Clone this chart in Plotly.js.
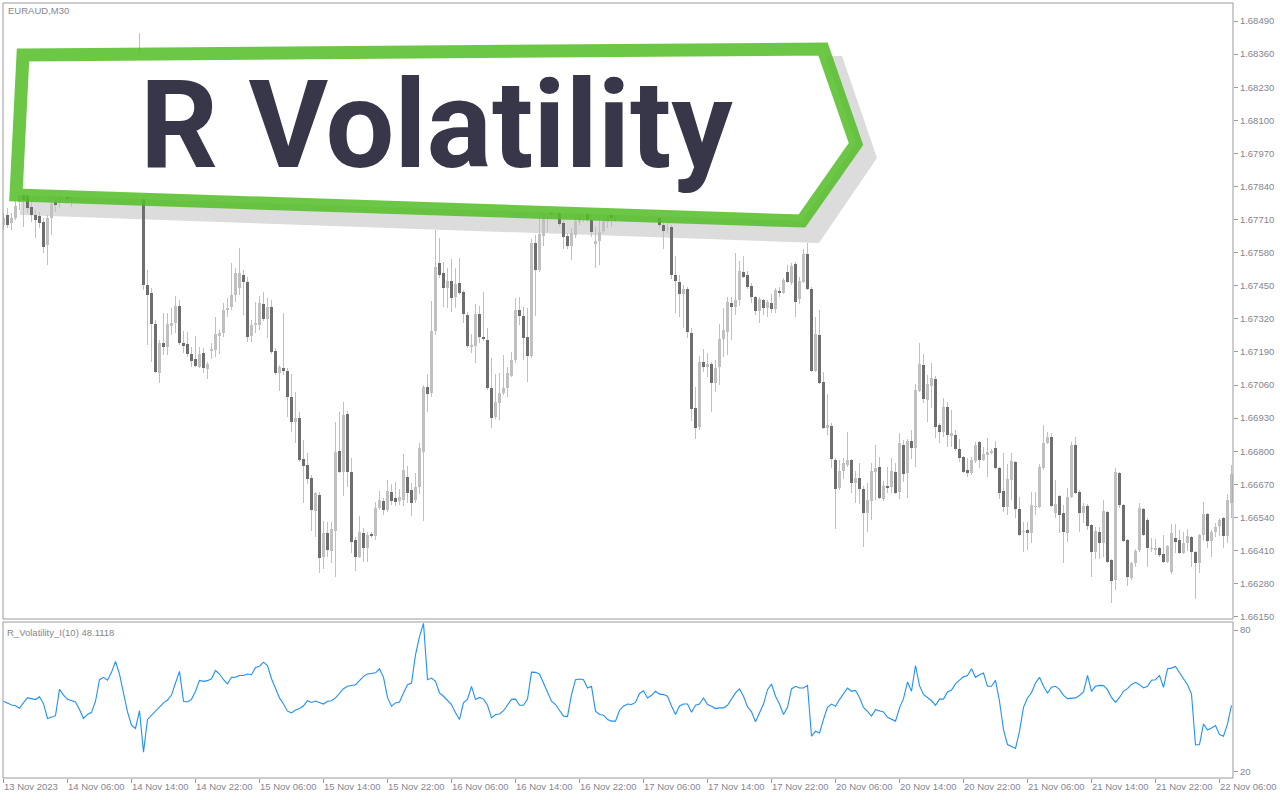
<!DOCTYPE html>
<html>
<head>
<meta charset="utf-8">
<script src="https://cdn.plot.ly/plotly-3.0.1.min.js"></script>
<style>html,body{margin:0;padding:0;background:#fff;}#chart{width:1280px;height:800px;}</style>
</head>
<body>
<div id="chart"></div>
<script>
// EURAUD M30 candles, 13 Nov 2023 22:00 .. 22 Nov 2023 07:30
const openP = [
1.67688,1.67728,1.67696,1.67717,1.67779,1.67810,1.67818,1.67760,1.67728,1.67724,
1.67700,1.67610,1.67717,1.67779,1.67775,1.67810,1.67826,1.67791,1.67826,1.67858,
1.67885,1.67866,1.67905,1.67944,1.67924,1.67983,1.68015,1.67991,1.68042,1.68081,
1.68031,1.67983,1.68003,1.67944,1.67983,1.67806,1.67453,1.67422,1.67300,1.67107,
1.67225,1.67210,1.67292,1.67304,1.67371,1.67225,1.67221,1.67182,1.67163,1.67132,
1.67186,1.67124,1.67194,1.67198,1.67252,1.67264,1.67355,1.67367,1.67414,1.67442,
1.67492,1.67465,1.67252,1.67296,1.67296,1.67378,1.67320,1.67367,1.67194,1.67107,
1.67128,1.67115,1.67014,1.66915,1.66931,1.66770,1.66746,1.66695,1.66565,1.66628,
1.66385,1.66479,1.66408,1.66487,1.66801,1.66719,1.66946,1.66719,1.66452,1.66385,
1.66479,1.66420,1.66475,1.66467,1.66577,1.66605,1.66569,1.66640,1.66617,1.66605,
1.66609,1.66699,1.66648,1.66609,1.66660,1.66797,1.67053,1.67029,1.67272,1.67539,
1.67500,1.67442,1.67469,1.67407,1.67461,1.67426,1.67335,1.67210,1.67213,1.67339,
1.67249,1.67237,1.67049,1.66935,1.66989,1.67029,1.67049,1.67096,1.67159,1.67355,
1.67331,1.67249,1.67174,1.67618,1.67512,1.67645,1.67732,1.67763,1.67732,1.67736,
1.67696,1.67645,1.67606,1.67649,1.67700,1.67732,1.67752,1.67708,1.67614,1.67626,
1.67665,1.67700,1.67728,1.67717,1.67748,1.67767,1.67740,1.67771,1.67787,1.67760,
1.67775,1.67752,1.67748,1.67732,1.67717,1.67688,1.67673,1.67681,1.67492,1.67465,
1.67418,1.67438,1.67264,1.66970,1.66896,1.67151,1.67132,1.67143,1.67068,1.67132,
1.67241,1.67268,1.67382,1.67367,1.67394,1.67504,1.67492,1.67449,1.67407,1.67351,
1.67394,1.67363,1.67382,1.67359,1.67430,1.67422,1.67504,1.67461,1.67535,1.67399,
1.67465,1.67575,1.67438,1.67115,1.67256,1.67072,1.66892,1.66899,1.66766,1.66656,
1.66723,1.66746,1.66766,1.66675,1.66695,1.66652,1.66557,1.66605,1.66719,1.66738,
1.66613,1.66664,1.66660,1.66719,1.66640,1.66825,1.66715,1.66840,1.66813,1.67037,
1.67139,1.67001,1.67056,1.67084,1.66903,1.66876,1.66974,1.66860,1.66864,1.66809,
1.66778,1.66727,1.66715,1.66762,1.66836,1.66766,1.66785,1.66793,1.66813,1.66735,
1.66644,1.66581,1.66687,1.66758,1.66573,1.66483,1.66491,1.66479,1.66581,1.66581,
1.66735,1.66832,1.66856,1.66557,1.66624,1.66557,1.66479,1.66620,1.66825,1.66640,
1.66557,1.66585,1.66510,1.66404,1.66483,1.66440,1.66561,1.66373,1.66294,1.66715,
1.66589,1.66452,1.66302,1.66361,1.66412,1.66573,1.66530,1.66416,1.66412,1.66420,
1.66396,1.66365,1.66326,1.66460,1.66452,1.66400,1.66440,1.66463,1.66404,1.66361,
1.66471,1.66553,1.66448,1.66483,1.66506,1.66538,1.66467,1.66597];

const highP = [
1.67736,1.67756,1.67736,1.67787,1.67826,1.67826,1.67835,1.67779,1.67748,1.67740,
1.67717,1.67728,1.67795,1.67806,1.67835,1.67846,1.67842,1.67846,1.67874,1.67905,
1.67913,1.67924,1.67963,1.67975,1.68003,1.68038,1.68031,1.68070,1.68109,1.68101,
1.68050,1.68023,1.68015,1.67995,1.68443,1.67826,1.67512,1.67442,1.67316,1.67237,
1.67343,1.67343,1.67363,1.67410,1.67394,1.67272,1.67268,1.67210,1.67252,1.67210,
1.67206,1.67151,1.67225,1.67327,1.67276,1.67382,1.67403,1.67539,1.67520,1.67599,
1.67512,1.67485,1.67316,1.67386,1.67410,1.67426,1.67403,1.67394,1.67206,1.67139,
1.67343,1.67128,1.67103,1.67033,1.66954,1.66844,1.66793,1.66707,1.66640,1.66640,
1.66526,1.66522,1.66522,1.66915,1.66954,1.66993,1.66958,1.66774,1.66463,1.66545,
1.66499,1.66483,1.66483,1.66601,1.66644,1.66617,1.66687,1.66671,1.66679,1.66652,
1.66789,1.66742,1.66675,1.66715,1.66832,1.67060,1.67103,1.67390,1.67669,1.67638,
1.67543,1.67520,1.67556,1.67520,1.67560,1.67434,1.67347,1.67260,1.67378,1.67371,
1.67426,1.67284,1.67167,1.67103,1.67107,1.67178,1.67132,1.67190,1.67403,1.67407,
1.67367,1.67363,1.67634,1.67649,1.67760,1.67760,1.67787,1.67787,1.67775,1.67752,
1.67708,1.67657,1.67677,1.67728,1.67767,1.67787,1.67767,1.67748,1.67681,1.67720,
1.67748,1.67748,1.67756,1.67767,1.67795,1.67787,1.67795,1.67810,1.67806,1.67795,
1.67791,1.67767,1.67767,1.67756,1.67748,1.67696,1.67696,1.67688,1.67567,1.67492,
1.67453,1.67446,1.67284,1.67053,1.67174,1.67202,1.67186,1.67151,1.67159,1.67300,
1.67363,1.67407,1.67407,1.67579,1.67547,1.67567,1.67508,1.67461,1.67410,1.67407,
1.67399,1.67394,1.67418,1.67442,1.67446,1.67481,1.67531,1.67539,1.67543,1.67485,
1.67595,1.67618,1.67446,1.67327,1.67355,1.67111,1.67025,1.66911,1.66774,1.66766,
1.66774,1.66876,1.66770,1.66723,1.66754,1.66664,1.66675,1.66754,1.66825,1.66778,
1.66683,1.66738,1.66774,1.66754,1.66872,1.66844,1.66848,1.66884,1.67064,1.67225,
1.67182,1.67099,1.67147,1.67096,1.66911,1.67009,1.66993,1.66962,1.66884,1.66848,
1.66782,1.66774,1.66778,1.66836,1.66840,1.66817,1.66852,1.66809,1.66840,1.66738,
1.66793,1.66750,1.66793,1.66762,1.66620,1.66522,1.66522,1.66640,1.66640,1.66750,
1.66903,1.66876,1.66872,1.66687,1.66628,1.66589,1.66656,1.66836,1.66856,1.66648,
1.66597,1.66593,1.66514,1.66503,1.66503,1.66609,1.66565,1.66377,1.66735,1.66719,
1.66593,1.66456,1.66365,1.66416,1.66597,1.66577,1.66538,1.66460,1.66456,1.66424,
1.66471,1.66432,1.66514,1.66514,1.66491,1.66483,1.66495,1.66467,1.66408,1.66475,
1.66601,1.66557,1.66491,1.66518,1.66538,1.66542,1.66632,1.66746];

const lowP = [
1.67669,1.67677,1.67669,1.67708,1.67748,1.67681,1.67736,1.67700,1.67638,1.67677,
1.67579,1.67531,1.67649,1.67740,1.67756,1.67787,1.67775,1.67760,1.67806,1.67842,
1.67846,1.67850,1.67889,1.67905,1.67913,1.67963,1.67975,1.67983,1.68023,1.68015,
1.67963,1.67944,1.67924,1.67905,1.67802,1.67434,1.67217,1.67151,1.67107,1.67068,
1.67178,1.67178,1.67256,1.67264,1.67217,1.67186,1.67171,1.67132,1.67132,1.67128,
1.67107,1.67084,1.67163,1.67171,1.67182,1.67249,1.67327,1.67355,1.67386,1.67414,
1.67335,1.67229,1.67229,1.67264,1.67276,1.67312,1.67245,1.67182,1.67099,1.67037,
1.67099,1.66935,1.66876,1.66832,1.66758,1.66597,1.66671,1.66487,1.66463,1.66322,
1.66338,1.66385,1.66361,1.66306,1.66715,1.66624,1.66660,1.66400,1.66330,1.66381,
1.66365,1.66365,1.66460,1.66452,1.66569,1.66549,1.66561,1.66589,1.66585,1.66589,
1.66585,1.66597,1.66545,1.66597,1.66632,1.66526,1.66954,1.67014,1.67256,1.67481,
1.67367,1.67363,1.67347,1.67363,1.67414,1.67304,1.67206,1.67186,1.67147,1.67225,
1.67233,1.67041,1.66892,1.66927,1.66923,1.67021,1.67014,1.67092,1.67147,1.67296,
1.67159,1.67072,1.67167,1.67331,1.67504,1.67606,1.67661,1.67717,1.67717,1.67684,
1.67595,1.67595,1.67551,1.67638,1.67688,1.67700,1.67700,1.67642,1.67520,1.67531,
1.67657,1.67677,1.67681,1.67700,1.67728,1.67724,1.67724,1.67748,1.67740,1.67736,
1.67732,1.67724,1.67717,1.67708,1.67681,1.67595,1.67657,1.67477,1.67343,1.67327,
1.67284,1.67245,1.66919,1.66848,1.66884,1.67111,1.67092,1.66954,1.67033,1.67060,
1.67171,1.67178,1.67237,1.67335,1.67371,1.67481,1.67438,1.67382,1.67335,1.67304,
1.67335,1.67327,1.67343,1.67343,1.67407,1.67418,1.67461,1.67453,1.67327,1.67378,
1.67461,1.67434,1.67111,1.67111,1.67064,1.66888,1.66864,1.66735,1.66495,1.66648,
1.66691,1.66738,1.66636,1.66597,1.66593,1.66424,1.66483,1.66530,1.66609,1.66613,
1.66605,1.66636,1.66636,1.66632,1.66613,1.66679,1.66617,1.66770,1.66738,1.67033,
1.66989,1.66915,1.66970,1.66852,1.66832,1.66856,1.66817,1.66817,1.66801,1.66758,
1.66715,1.66699,1.66707,1.66754,1.66735,1.66762,1.66699,1.66789,1.66731,1.66613,
1.66561,1.66549,1.66609,1.66538,1.66467,1.66404,1.66412,1.66440,1.66549,1.66577,
1.66727,1.66828,1.66581,1.66538,1.66479,1.66361,1.66444,1.66617,1.66632,1.66483,
1.66518,1.66491,1.66306,1.66377,1.66377,1.66385,1.66361,1.66204,1.66255,1.66577,
1.66444,1.66271,1.66294,1.66346,1.66404,1.66467,1.66346,1.66404,1.66392,1.66385,
1.66361,1.66361,1.66318,1.66400,1.66396,1.66396,1.66408,1.66346,1.66220,1.66322,
1.66452,1.66420,1.66385,1.66463,1.66467,1.66420,1.66440,1.66538];

const closeP = [
1.67717,1.67688,1.67717,1.67763,1.67810,1.67787,1.67756,1.67728,1.67708,1.67696,
1.67603,1.67717,1.67771,1.67767,1.67814,1.67826,1.67791,1.67826,1.67858,1.67885,
1.67866,1.67905,1.67944,1.67924,1.67983,1.68015,1.67991,1.68042,1.68081,1.68031,
1.67983,1.68003,1.67944,1.67983,1.67818,1.67453,1.67414,1.67300,1.67111,1.67225,
1.67210,1.67300,1.67304,1.67371,1.67225,1.67213,1.67182,1.67155,1.67135,1.67182,
1.67128,1.67143,1.67202,1.67260,1.67264,1.67355,1.67363,1.67414,1.67500,1.67500,
1.67465,1.67249,1.67296,1.67304,1.67382,1.67320,1.67367,1.67190,1.67107,1.67132,
1.67115,1.67014,1.66915,1.66931,1.66766,1.66742,1.66691,1.66569,1.66636,1.66381,
1.66479,1.66412,1.66495,1.66797,1.66719,1.66942,1.66719,1.66444,1.66385,1.66483,
1.66420,1.66471,1.66467,1.66577,1.66609,1.66569,1.66644,1.66605,1.66601,1.66620,
1.66727,1.66636,1.66597,1.66660,1.66813,1.67053,1.67025,1.67272,1.67524,1.67492,
1.67442,1.67469,1.67403,1.67457,1.67422,1.67339,1.67213,1.67217,1.67339,1.67249,
1.67241,1.67049,1.66931,1.66993,1.67029,1.67049,1.67107,1.67159,1.67355,1.67331,
1.67245,1.67174,1.67618,1.67512,1.67653,1.67736,1.67763,1.67732,1.67760,1.67692,
1.67642,1.67606,1.67657,1.67704,1.67740,1.67756,1.67708,1.67661,1.67626,1.67661,
1.67704,1.67728,1.67717,1.67748,1.67767,1.67740,1.67771,1.67787,1.67760,1.67775,
1.67752,1.67748,1.67732,1.67740,1.67688,1.67665,1.67677,1.67492,1.67469,1.67418,
1.67438,1.67268,1.66966,1.66892,1.67151,1.67132,1.67143,1.67068,1.67128,1.67241,
1.67276,1.67386,1.67367,1.67394,1.67508,1.67485,1.67446,1.67407,1.67351,1.67399,
1.67363,1.67386,1.67359,1.67434,1.67422,1.67473,1.67465,1.67528,1.67386,1.67469,
1.67575,1.67438,1.67115,1.67260,1.67068,1.66892,1.66903,1.66770,1.66652,1.66723,
1.66754,1.66766,1.66675,1.66695,1.66652,1.66557,1.66609,1.66723,1.66735,1.66617,
1.66664,1.66656,1.66723,1.66636,1.66832,1.66711,1.66840,1.66813,1.67041,1.67143,
1.67005,1.67064,1.67088,1.66896,1.66876,1.66974,1.66864,1.66872,1.66809,1.66774,
1.66719,1.66715,1.66766,1.66825,1.66766,1.66789,1.66797,1.66801,1.66735,1.66636,
1.66581,1.66691,1.66762,1.66573,1.66471,1.66487,1.66479,1.66589,1.66585,1.66738,
1.66832,1.66856,1.66585,1.66593,1.66549,1.66483,1.66620,1.66825,1.66636,1.66557,
1.66585,1.66506,1.66404,1.66487,1.66440,1.66565,1.66365,1.66290,1.66719,1.66589,
1.66448,1.66306,1.66361,1.66408,1.66577,1.66471,1.66420,1.66420,1.66420,1.66392,
1.66365,1.66428,1.66479,1.66444,1.66400,1.66440,1.66467,1.66404,1.66361,1.66471,
1.66553,1.66448,1.66483,1.66503,1.66530,1.66467,1.66609,1.66711];

// R_Volatility_I(10) indicator values
const rVol = [
49.9,49.2,48.3,48.0,46.9,49.3,51.3,51.0,50.6,51.8,
48.9,42.6,43.3,43.8,54.9,52.5,50.7,50.0,49.6,46.4,
42.6,44.3,45.2,49.9,59.0,60.0,58.8,62.1,66.7,61.4,
54.1,45.4,39.8,38.4,45.9,28.4,42.2,44.0,45.7,47.8,
49.2,50.4,52.5,57.6,62.5,49.9,49.6,50.7,54.1,58.7,
58.3,58.6,59.4,62.9,61.4,59.0,57.2,60.0,60.1,60.8,
60.8,61.4,61.1,64.2,64.7,66.4,65.0,59.4,55.5,51.3,
48.7,45.7,45.0,46.2,46.8,48.0,50.1,49.4,50.0,49.2,
48.7,49.9,50.1,51.3,53.4,55.2,56.2,56.5,56.9,58.6,
60.4,61.4,61.8,61.9,63.6,60.0,51.5,47.8,49.2,49.6,
53.4,56.9,57.6,69.5,77.2,82.8,59.0,59.7,58.3,53.4,
52.0,50.3,48.5,45.0,42.2,49.2,50.8,56.2,50.6,51.5,
50.8,48.2,42.9,44.3,44.5,45.9,48.5,50.7,50.8,48.2,
48.2,50.8,62.2,62.1,61.4,57.6,53.8,49.9,48.5,45.9,
43.6,43.4,52.7,59.0,59.3,59.0,55.5,56.2,45.7,44.3,
44.0,42.2,41.5,41.5,46.1,47.8,48.7,48.5,49.4,53.2,
54.3,51.3,52.4,54.1,52.9,52.7,52.0,47.9,44.3,47.9,
48.7,48.7,45.2,48.2,48.7,51.3,48.5,47.8,46.8,47.1,
47.1,48.2,50.6,53.4,55.1,52.0,47.6,45.4,41.2,44.7,
48.7,54.8,57.2,52.0,48.7,44.3,47.3,55.1,56.2,55.5,
55.5,56.6,35.1,37.2,36.5,42.2,47.3,48.7,47.8,50.6,
52.8,55.5,54.1,54.5,51.5,47.3,45.6,43.6,46.3,45.9,
45.4,43.1,42.2,41.5,47.1,51.0,58.0,54.1,65.0,56.5,
52.8,51.5,50.1,48.2,50.8,50.8,53.8,54.6,57.2,58.8,
60.2,60.8,63.6,60.0,61.1,61.8,56.2,56.2,58.7,49.9,
37.9,31.6,30.9,29.9,37.2,47.3,51.3,53.5,57.6,60.0,
56.2,53.4,55.8,56.2,54.9,52.4,51.0,51.0,51.3,52.3,
53.8,60.8,54.1,56.2,56.6,56.5,54.8,51.5,49.4,51.5,
54.1,55.2,57.0,57.9,56.9,55.5,56.2,58.8,59.0,60.8,
55.8,63.6,63.9,64.6,61.8,59.4,56.9,52.9,31.4,31.6,
40.3,37.7,38.6,39.6,35.8,35.1,40.3,48.11];

// time-axis labels (bar index of each label)
const timeTickPos = [0,16,32,48,64,80,96,112,128,144,160,176,192,208,224,240,256,272,288,304];
const timeTickText = ["13 Nov 2023","14 Nov 06:00","14 Nov 14:00","14 Nov 22:00","15 Nov 06:00",
  "15 Nov 14:00","15 Nov 22:00","16 Nov 06:00","16 Nov 14:00","16 Nov 22:00","17 Nov 06:00",
  "17 Nov 14:00","17 Nov 22:00","20 Nov 06:00","20 Nov 14:00","20 Nov 22:00","21 Nov 06:00",
  "21 Nov 14:00","21 Nov 22:00","22 Nov 06:00"];
const priceTicks = [1.66150,1.66280,1.66410,1.66540,1.66670,1.66800,1.66930,1.67060,1.67190,
  1.67320,1.67450,1.67580,1.67710,1.67840,1.67970,1.68100,1.68230,1.68360,1.68490];
const indTicks = [20,80];

const idx = closeP.map((_, i) => i);
const LIGHT = '#c0c0c0', DARK = '#6e6e6e';

const wick = {
  type:'bar', x:idx, base:lowP, y:highP.map((h,i)=>h-lowP[i]),
  width:0.25, marker:{color:LIGHT, line:{width:0}}, hoverinfo:'skip',
  xaxis:'x', yaxis:'y'
};
const body = {
  type:'bar', x:idx,
  base:openP.map((o,i)=>Math.min(o,closeP[i])),
  y:openP.map((o,i)=>Math.max(Math.abs(closeP[i]-o), 0.00004)),
  width:0.75,
  marker:{color:openP.map((o,i)=> closeP[i]>=o ? LIGHT : DARK), line:{width:0}},
  hoverinfo:'skip', xaxis:'x', yaxis:'y'
};
const ind = {
  type:'scatter', mode:'lines', x:idx, y:rVol,
  line:{color:'#1e90ff', width:1.1}, hoverinfo:'skip', xaxis:'x', yaxis:'y2'
};

const tickFont = {family:'Liberation Sans, Arial, sans-serif', size:9.5, color:'#858590'};
const frameCol = '#9a9a9e';

// pixel -> paper helpers for overlay geometry (plot area: x 3..1233, y 3..778)
const px = x => (x-3)/1230, py = y => (778-y)/775;
function poly(pts){ return 'M' + pts.map(p => px(p[0]).toFixed(5)+','+py(p[1]).toFixed(5)).join(' L') + ' Z'; }

const bannerPts = [[23,55],[823,49],[856,144],[802,221],[16,195]];
const shadowPts = [[30,62],[842,56],[877,158],[819,243],[20,215]];

const layout = {
  width:1280, height:800,
  margin:{l:3, r:47, t:3, b:22, pad:0},
  paper_bgcolor:'#ffffff', plot_bgcolor:'#ffffff',
  showlegend:false, barmode:'overlay', bargap:0, hovermode:false,
  font:tickFont,
  xaxis:{
    range:[-0.125, 307.375], anchor:'y2', showgrid:false, zeroline:false, showline:false,
    tickmode:'array', tickvals:timeTickPos, ticktext:timeTickText, tickangle:0,
    ticks:'outside', ticklen:4, tickcolor:frameCol, tickwidth:1, automargin:false,
    ticklabelposition:'outside right', tickfont:tickFont, fixedrange:true
  },
  yaxis:{
    domain:[py(619), 1], range:[1.66141, 1.68561], side:'right', anchor:'x',
    showgrid:false, zeroline:false, showline:false, automargin:false,
    tickmode:'array', tickvals:priceTicks, tickformat:'.5f',
    ticks:'outside', ticklen:4, tickcolor:frameCol, tickfont:tickFont, fixedrange:true
  },
  yaxis2:{
    domain:[0, py(622)], range:[17.46, 83.38], side:'right', anchor:'x',
    showgrid:false, zeroline:false, showline:false, automargin:false,
    tickmode:'array', tickvals:indTicks, ticktext:['20','80'],
    ticks:'outside', ticklen:4, tickcolor:frameCol, tickfont:tickFont, fixedrange:true
  },
  shapes:[
    {type:'path', xref:'paper', yref:'paper', layer:'below', path:poly(shadowPts),
     fillcolor:'#dcdcdc', line:{width:0}},
    {type:'path', xref:'paper', yref:'paper', layer:'above', path:poly(bannerPts),
     fillcolor:'#ffffff', line:{width:0}},
    {type:'path', xref:'paper', yref:'paper', layer:'above', path:poly(bannerPts),
     fillcolor:'rgba(0,0,0,0)', opacity:0.85, line:{color:'rgb(84,190,40)', width:13}},
    {type:'rect', xref:'paper', yref:'paper', x0:0, x1:1, y0:py(619), y1:1,
     line:{color:frameCol, width:1}, fillcolor:'rgba(0,0,0,0)'},
    {type:'rect', xref:'paper', yref:'paper', x0:0, x1:1, y0:0, y1:py(622),
     line:{color:frameCol, width:1}, fillcolor:'rgba(0,0,0,0)'}
  ],
  annotations:[
    {xref:'paper', yref:'paper', x:px(6), y:py(10), xanchor:'left', yanchor:'middle',
     text:'EURAUD,M30', showarrow:false, font:tickFont},
    {xref:'paper', yref:'paper', x:px(5), y:py(632), xanchor:'left', yanchor:'middle',
     text:'R_Volatility_I(10) 48.1118', showarrow:false, font:tickFont},
    {xref:'paper', yref:'paper', x:px(436.5), y:py(125), xanchor:'center', yanchor:'middle',
     text:'R Volatility', showarrow:false,
     font:{family:'Roboto, Liberation Sans, sans-serif', size:122, color:'#373749', weight:700}}
  ]
};

Plotly.newPlot('chart', [wick, body, ind], layout, {displayModeBar:false, staticPlot:true});
</script>
</body>
</html>
